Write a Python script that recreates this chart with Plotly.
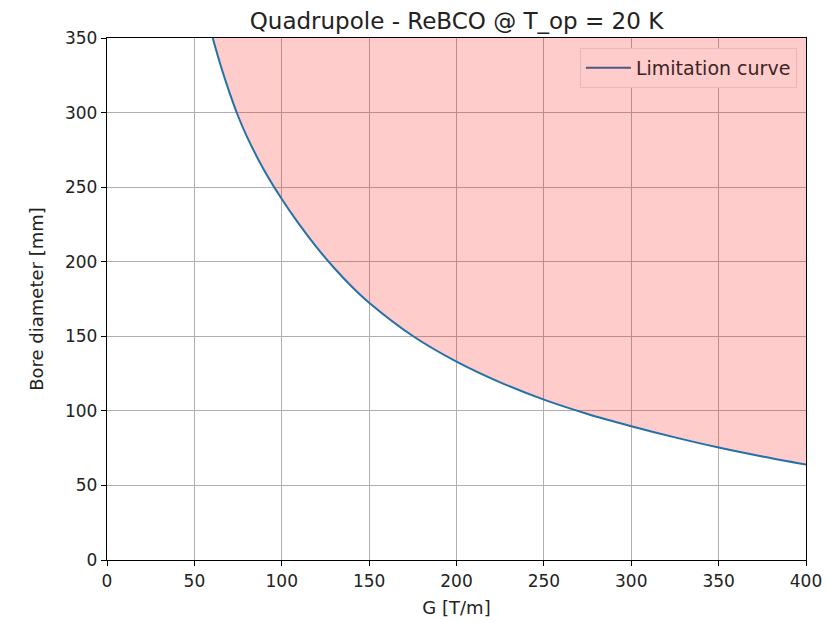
import plotly.graph_objects as go

# Data
G = [60.5, 65, 70, 75, 80, 90, 100, 110, 120, 130, 140, 150, 175, 200, 225, 250, 275, 300, 325, 350, 375, 400]
D = [350, 331.7, 313.7, 297.7, 284.0, 261.1, 242.0, 225.0, 209.6, 195.8, 183.4, 172.5, 150.2, 133.0,
     119.1, 107.5, 97.9, 89.7, 82.2, 75.4, 69.4, 64.0]
x_ticks = [0, 50, 100, 150, 200, 250, 300, 350, 400]
y_ticks = [0, 50, 100, 150, 200, 250, 300, 350]
y_top = 350
x_max = 400

FONT = "DejaVu Sans"

fig = go.Figure()

# upper boundary of the shaded region
fig.add_trace(go.Scatter(x=G, y=[y_top] * len(G), mode="lines",
                         line=dict(width=0, color="rgba(0,0,0,0)"),
                         showlegend=False, hoverinfo="skip"))
# curve + shaded region above it
fig.add_trace(go.Scatter(x=G, y=D, mode="lines", name="Limitation curve",
                         line=dict(color="#2471a8", width=2, shape="spline", smoothing=0.8),
                         fill="tonexty", fillcolor="rgba(255,0,0,0.2)", showlegend=False))
# legend entry (as it appears over the shaded area)
fig.add_trace(go.Scatter(x=[None], y=[None], mode="lines", name="Limitation curve",
                         line=dict(color="#4b5880", width=2.2), showlegend=True))

fig.update_layout(
    width=827, height=622,
    margin=dict(l=107, r=21, t=38, b=62),
    paper_bgcolor="white", plot_bgcolor="white",
    font=dict(family=FONT, size=17, color="#222222"),
    title=dict(text="Quadrupole - ReBCO @ T_op = 20 K", x=0.5, xanchor="center",
               xref="paper", y=1, yref="paper", yanchor="bottom", pad=dict(b=9),
               font=dict(family=FONT, size=23, color="#222222")),
    showlegend=True,
    legend=dict(x=0.987, y=0.981, xanchor="right", yanchor="top",
                bgcolor="#ffcccc", bordercolor="#e3b9b9", borderwidth=1,
                itemwidth=45,
                font=dict(family=FONT, size=19, color="#3b2424")),
)

fig.update_xaxes(range=[0, x_max], tickvals=x_ticks, ticktext=[str(v) for v in x_ticks],
                 automargin=False,
                 showgrid=True, gridcolor="#b0b0b0", gridwidth=1,
                 showline=True, linecolor="black", linewidth=1.3, mirror=True,
                 ticks="outside", ticklen=5, tickcolor="black", zeroline=False,
                 title=dict(text="G [T/m]", standoff=11, font=dict(family=FONT, size=18)),
                 tickfont=dict(family=FONT, size=17))
fig.update_yaxes(range=[0, y_top], tickvals=y_ticks, ticktext=[str(v) for v in y_ticks],
                 automargin=False,
                 showgrid=True, gridcolor="#b0b0b0", gridwidth=1,
                 showline=True, linecolor="black", linewidth=1.3, mirror=True,
                 ticks="outside", ticklen=5, tickcolor="black", zeroline=False,
                 title=dict(text="Bore diameter [mm]", standoff=16, font=dict(family=FONT, size=18)),
                 tickfont=dict(family=FONT, size=17))

fig.write_html("out.html")
